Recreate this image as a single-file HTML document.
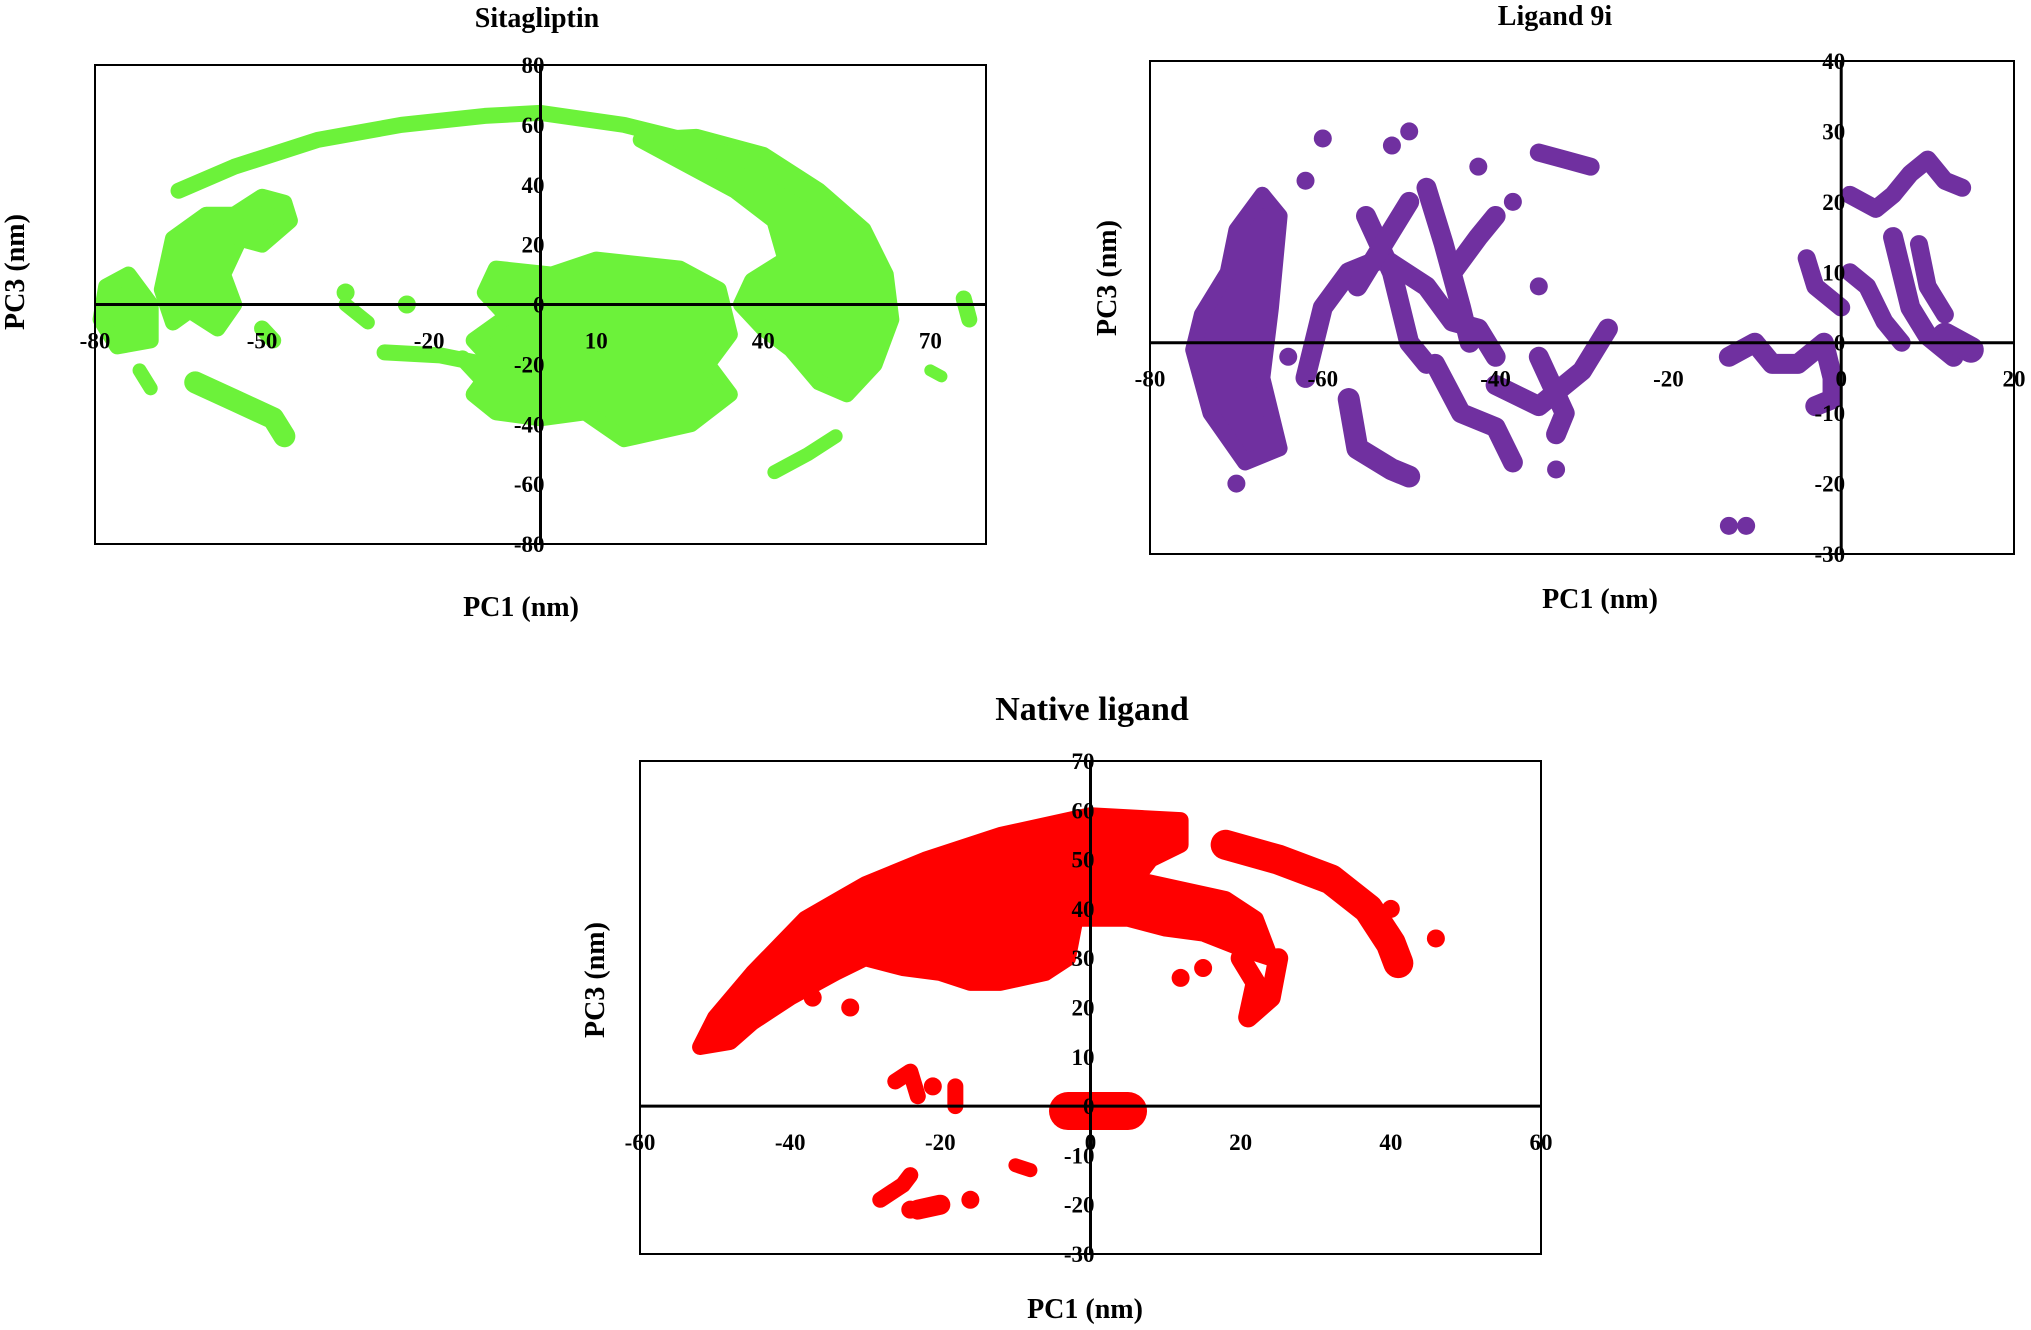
<!DOCTYPE html>
<html><head><meta charset="utf-8"><style>
html,body{margin:0;padding:0;background:#fff;}
svg{display:block;}
text{font-family:"Liberation Serif",serif;font-weight:bold;fill:#000;}
</style></head><body>
<svg id="s" width="2031" height="1330" xmlns="http://www.w3.org/2000/svg"></svg>
<script>
const S=document.getElementById('s');let h='';
function chart(c){
 const X=v=>c.x0+(v-c.xmin)/(c.xmax-c.xmin)*(c.x1-c.x0);
 const Y=v=>c.y1-(v-c.ymin)/(c.ymax-c.ymin)*(c.y1-c.y0);
 c.polys.forEach(p=>{h+=`<polygon points="${p.map(q=>X(q[0])+','+Y(q[1])).join(' ')}" fill="${c.col}" stroke="${c.col}" stroke-width="16" stroke-linejoin="round"/>`;});
 c.lines.forEach(l=>{const w=l[0];h+=`<polyline points="${l.slice(1).map(q=>X(q[0])+','+Y(q[1])).join(' ')}" fill="none" stroke="${c.col}" stroke-width="${w}" stroke-linejoin="round" stroke-linecap="round"/>`;});
 c.dots.forEach(d=>{h+=`<circle cx="${X(d[0])}" cy="${Y(d[1])}" r="9" fill="${c.col}"/>`;});
 h+=`<rect x="${c.x0}" y="${c.y0}" width="${c.x1-c.x0}" height="${c.y1-c.y0}" fill="none" stroke="#000" stroke-width="2"/>`;
 h+=`<line x1="${c.x0}" x2="${c.x1}" y1="${Y(0)}" y2="${Y(0)}" stroke="#000" stroke-width="3"/>`;
 h+=`<line x1="${X(0)}" x2="${X(0)}" y1="${c.y0}" y2="${c.y1}" stroke="#000" stroke-width="3"/>`;
 c.xt.forEach(t=>{h+=`<text x="${X(t)}" y="${Y(0)+44}" font-size="23" text-anchor="middle">${t}</text>`;});
 c.yt.forEach(t=>{h+=`<text x="${X(0)+4}" y="${Y(t)+8}" font-size="23" text-anchor="end">${t}</text>`;});
 h+=`<text x="${c.tx}" y="${c.ty}" font-size="${c.ts}" text-anchor="middle">${c.title}</text>`;
 h+=`<text x="${c.xlx}" y="${c.xly}" font-size="28" text-anchor="middle">PC1 (nm)</text>`;
 h+=`<text transform="translate(${c.ylx},${c.yly}) rotate(-90)" font-size="28" text-anchor="middle">PC3 (nm)</text>`;
}
chart({x0:95,x1:986,y0:65,y1:544,xmin:-80,xmax:80,ymin:-80,ymax:80,col:'#6cf23a',
 xt:[-80,-50,-20,10,40,70],yt:[80,60,40,20,0,-20,-40,-60,-80],
 title:'Sitagliptin',tx:537,ty:27,ts:28,xlx:521,xly:616,ylx:24,yly:272,
 polys:[
  [[28,56],[40,50],[50,38],[58,25],[62,10],[63,-5],[60,-20],[55,-30],[50,-26],[45,-15],[40,-8],[36,0],[38,8],[44,15],[42,28],[35,38],[25,48],[18,55]],
  [[-8,12],[2,10],[10,15],[25,12],[32,5],[34,-10],[30,-20],[34,-30],[27,-40],[15,-45],[8,-36],[0,-38],[-8,-36],[-12,-30],[-8,-20],[-12,-12],[-6,-4],[-10,4]],
  [[-78,6],[-74,10],[-70,0],[-70,-12],[-76,-14],[-79,-5]],
  [[-66,22],[-60,30],[-55,30],[-54,22],[-57,10],[-55,0],[-58,-8],[-63,-2],[-66,-6],[-68,5]],
  [[-55,30],[-50,36],[-46,34],[-45,28],[-50,20],[-54,22]]
 ],
 lines:[
  [16,[-65,38],[-55,46],[-40,55],[-25,60],[-10,63],[0,64],[15,60],[28,54],[40,46],[50,35],[56,22]],
  [22,[-62,-26],[-55,-32],[-48,-38],[-46,-44]],
  [14,[-72,-22],[-70,-28]],
  [16,[-28,-16],[-18,-17],[-10,-20]],
  [14,[-35,0],[-31,-6]],
  [16,[76,2],[77,-5]],
  [12,[70,-22],[72,-24]],
  [14,[42,-56],[48,-50],[53,-44]],
  [16,[-50,-8],[-48,-12]],
  [16,[-14,-18],[-8,-30]]
 ],
 dots:[[-24,0],[-35,4]]
});
chart({x0:1150,x1:2014,y0:61,y1:554,xmin:-80,xmax:20,ymin:-30,ymax:40,col:'#7030a0',
 xt:[-80,-60,-40,-20,0,20],yt:[40,30,20,10,0,-10,-20,-30],
 title:'Ligand 9i',tx:1555,ty:25,ts:28,xlx:1600,xly:608,ylx:1116,yly:278,
 polys:[
  [[-67,21],[-65,18],[-66,5],[-67,-5],[-65,-15],[-69,-17],[-73,-10],[-75,-1],[-74,4],[-71,10],[-70,16]]
 ],
 lines:[
  [20,[-62,-5],[-60,5],[-57,10],[-53,12],[-48,8],[-45,3],[-42,2],[-40,-2]],
  [20,[-55,18],[-52,10],[-50,0],[-48,-3]],
  [20,[-48,22],[-46,14],[-44,5],[-43,0]],
  [22,[-57,-8],[-56,-15],[-52,-18],[-50,-19]],
  [20,[-47,-3],[-44,-10],[-40,-12],[-38,-17]],
  [20,[-40,-6],[-35,-9],[-30,-4],[-27,2]],
  [20,[-35,-2],[-32,-10],[-33,-13]],
  [18,[-35,27],[-32,26],[-29,25]],
  [20,[-56,8],[-54,12],[-52,16],[-50,20]],
  [20,[-45,10],[-42,15],[-40,18]],
  [20,[-13,-2],[-10,0],[-8,-3],[-5,-3],[-2,0],[-1,-5],[-1,-8],[-3,-9]],
  [18,[-4,12],[-3,8],[0,5]],
  [18,[1,21],[4,19],[6,21],[8,24],[10,26],[12,23],[14,22]],
  [20,[6,15],[7,10],[8,5],[10,1],[13,-2]],
  [26,[12,1],[15,-1]],
  [18,[1,10],[3,8],[5,3],[7,0]],
  [18,[9,14],[10,8],[12,4]]
 ],
 dots:[[-60,29],[-50,30],[-52,28],[-70,-20],[-33,-18],[-35,8],[-13,-26],[-11,-26],[-62,23],[-42,25],[-38,20],[-64,-2],[-28,0]]
});
chart({x0:640,x1:1541,y0:761,y1:1254,xmin:-60,xmax:60,ymin:-30,ymax:70,col:'#ff0000',
 xt:[-60,-40,-20,0,20,40,60],yt:[70,60,50,40,30,20,10,0,-10,-20,-30],
 title:'Native ligand',tx:1092,ty:720,ts:34,xlx:1085,xly:1318,ylx:604,yly:980,
 polys:[
  [[-52,12],[-50,18],[-45,27],[-38,38],[-30,45],[-22,50],[-12,55],[0,59],[12,58],[12,53],[8,50],[6,46],[12,44],[18,42],[22,38],[24,30],[20,32],[15,35],[10,36],[5,38],[-2,38],[-3,30],[-6,27],[-12,25],[-16,25],[-20,27],[-25,28],[-30,30],[-34,27],[-40,22],[-45,17],[-48,13]]
 ],
 lines:[
  [30,[18,53],[25,50],[32,46],[37,40],[40,33],[41,29]],
  [20,[20,30],[22,25],[21,18],[24,22],[25,30]],
  [38,[-3,-1],[5,-1]],
  [16,[-26,5],[-24,7],[-23,2]],[16,[-18,4],[-18,0]],
  [16,[-28,-19],[-25,-16],[-24,-14]],
  [20,[-23,-21],[-20,-20]],
  [14,[-10,-12],[-8,-13]]
 ],
 dots:[[-16,-19],[-24,-21],[-21,4],[40,40],[46,34],[-37,22],[-32,20],[12,26],[15,28]]
});
S.innerHTML=h;
</script>
</body></html>
